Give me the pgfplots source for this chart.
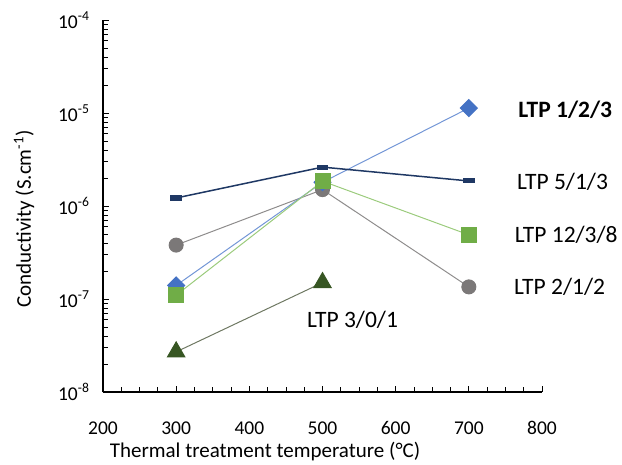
\documentclass[border=0pt]{standalone}
\usepackage{fontspec}
\setmainfont{Carlito}
\usepackage{pgfplots}
\pgfplotsset{compat=1.18}

\definecolor{bluemk}{HTML}{4472C4}
\definecolor{blueln}{HTML}{7396D6}
\definecolor{navy}{HTML}{1F3864}
\definecolor{greenmk}{HTML}{70AD47}
\definecolor{greenln}{HTML}{9BCB7C}
\definecolor{graymk}{HTML}{7B7878}
\definecolor{grayln}{HTML}{8E8C8C}
\definecolor{olivemk}{HTML}{375623}
\definecolor{oliveln}{HTML}{6E7862}

\newcommand{\tickfont}{\fontsize{19.5}{22}\selectfont}
\newcommand{\titlefont}{\fontsize{21}{25}\selectfont}
\newcommand{\notefont}{\fontsize{23.5}{27}\selectfont}

\begin{document}
\begin{tikzpicture}
\begin{axis}[
  scale only axis,
  width=439pt, height=372pt,
  xmin=200, xmax=800,
  ymode=log, log basis y=10,
  ymin=1e-8, ymax=1e-4,
  axis x line=bottom, axis y line=left,
  axis line style={-, line width=1.2pt, black},
  tick align=inside,
  xtick={200,300,...,800},
  minor x tick num=3,
  major tick length=6pt, minor tick length=5pt,
  every tick/.style={black, line width=0.8pt},
  every minor tick/.style={black, line width=0.8pt},
  /pgf/number format/assume math mode=true,
  xticklabel style={font=\tickfont, anchor=center, yshift=-36pt},
  yticklabel style={font=\tickfont, anchor=east, xshift=-10pt},
  yticklabel={\pgfmathtruncatemacro\ex{round(\tick)}10\textsuperscript{\ex}},
  xlabel={Thermal treatment temperature (°C)},
  ylabel={Conductivity (S.cm\textsuperscript{-1})},
  xlabel style={font=\titlefont, at={(axis description cs:0.369,-0.161)}, anchor=center},
  ylabel style={font=\titlefont, at={(axis description cs:-0.18,0.465)}, anchor=center},
  clip=false,
]
% LTP 3/0/1
\addplot[color=oliveln, line width=1pt, mark=triangle*, mark size=10pt,
  mark options={fill=olivemk, draw=olivemk}]
  coordinates {(300,2.7e-8) (500,1.5e-7)};
% LTP 2/1/2
\addplot[color=grayln, line width=1pt, mark=*, mark size=7pt,
  mark options={fill=graymk, draw=graymk}]
  coordinates {(300,3.8e-7) (500,1.5e-6) (700,1.35e-7)};
% LTP 1/2/3
\addplot[color=blueln, line width=1pt, mark=diamond*, mark size=8.5pt,
  mark options={fill=bluemk, draw=bluemk, xscale=1.333}]
  coordinates {(300,1.4e-7) (500,1.8e-6) (700,1.13e-5)};
% LTP 12/3/8
\addplot[color=greenln, line width=1pt, mark=square*, mark size=7.5pt,
  mark options={fill=greenmk, draw=greenmk}]
  coordinates {(300,1.1e-7) (500,1.85e-6) (700,4.9e-7)};
% LTP 5/1/3
\addplot[color=navy, line width=1.5pt, mark=square*, mark size=3pt,
  mark options={fill=navy, draw=navy, xscale=1.7, yscale=0.6}]
  coordinates {(300,1.22e-6) (500,2.62e-6) (700,1.86e-6)};

\node[anchor=west] at (axis cs:763,1.08e-5) {\notefont\bfseries LTP 1/2/3};
\node[anchor=west] at (axis cs:761,1.81e-6) {\notefont LTP 5/1/3};
\node[anchor=west] at (axis cs:758,4.9e-7) {\notefont LTP 12/3/8};
\node[anchor=west] at (axis cs:757,1.35e-7) {\notefont LTP 2/1/2};
\node[anchor=west] at (axis cs:474,5.9e-8) {\notefont LTP 3/0/1};

\path (rel axis cs:0,0) ++(-103pt,-71pt) coordinate (bl);
\path (rel axis cs:1,1) ++(80pt,20pt) coordinate (tr);
\end{axis}
\path (bl) rectangle (tr);
\end{tikzpicture}
\end{document}
